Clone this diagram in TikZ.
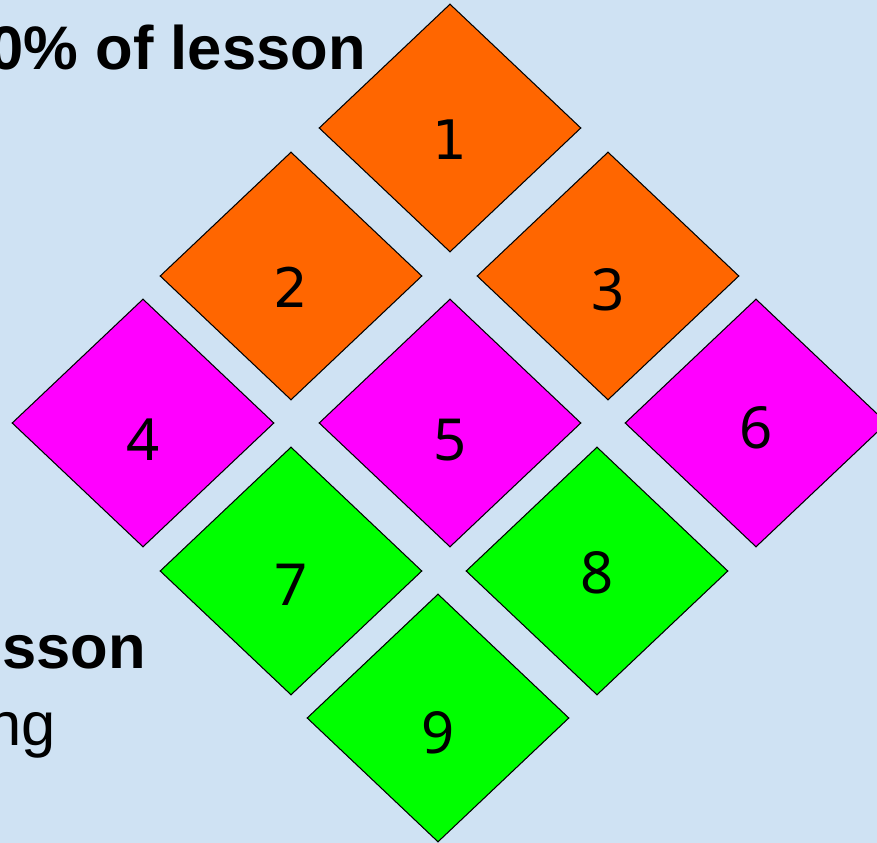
\documentclass[tikz,border=0pt]{standalone}
\usepackage{fontspec}
\setmainfont{Liberation Sans}
\newfontfamily\numfont{Noto Sans}
\newfontfamily\numfontb{DejaVu Sans}
\usetikzlibrary{shapes.geometric}

\definecolor{paleblue}{RGB}{207,226,243}
\definecolor{tileorange}{RGB}{255,102,0}
\definecolor{tilemagenta}{RGB}{255,0,255}
\definecolor{tilegreen}{RGB}{0,255,0}

\begin{document}
\begin{tikzpicture}[
  x=0.2mm, y=-0.2mm,
  tile/.style={draw=black, line width=0.6pt, diamond, inner sep=0pt, minimum width=52.4mm, minimum height=49.6mm},
  top/.style={tile, fill=tileorange},
  mid/.style={tile, fill=tilemagenta},
  low/.style={tile, fill=tilegreen},
  num/.style={inner sep=0pt, font=\numfont\fontsize{33}{36}\selectfont},
  numb/.style={inner sep=0pt, font=\numfontb\fontsize{31}{34}\selectfont},
  heading/.style={inner sep=0pt, anchor=base east, font=\fontsize{35}{40}\selectfont}
]
\useasboundingbox (0,0) rectangle (877,843);
\fill[paleblue] (0,0) rectangle (877,843);
\clip (0,0) rectangle (877,843);

% side texts (cut off at the left edge)
\node[heading, font=\bfseries\fontsize{35}{40}\selectfont] (upper) at (366,70) {0\% of lesson};
\node[heading, font=\bfseries\fontsize{35}{40}\selectfont] (lower) at (146,669) {esson};
\node[heading] (lowerb) at (56,745) {ng};

% diamond nine
\node[top] (d1) at (450,128) {};
\node[top] (d2) at (291,276) {};
\node[top] (d3) at (608,276) {};
\node[mid] (d4) at (143,423) {};
\node[mid] (d5) at (450,423) {};
\node[mid] (d6) at (756,423) {};
\node[low] (d7) at (291,571) {};
\node[low] (d8) at (597,571) {};
\node[low] (d9) at (438,718) {};

% numbers
\node[numb] (n1) at (450,140) {1};
\node[numb] (n2) at (291,287) {2};
\node[num] (n3) at (608,290) {3};
\node[num] (n4) at (143,440) {4};
\node[num] (n5) at (450,440) {5};
\node[num] (n6) at (756,428) {6};
\node[num] (n7) at (291,585) {7};
\node[num] (n8) at (597,573) {8};
\node[num] (n9) at (438,733) {9};

\end{tikzpicture}
\end{document}
